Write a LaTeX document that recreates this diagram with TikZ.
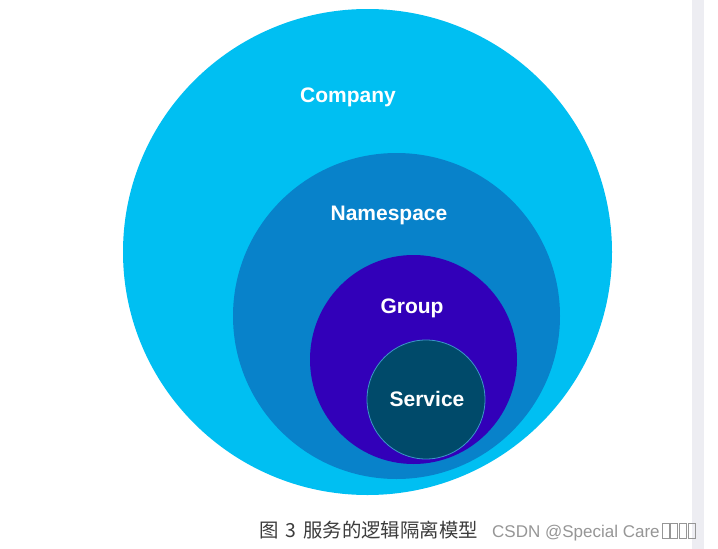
\documentclass[tikz,border=0pt]{standalone}
\usepackage{fontspec}
\setmainfont{Liberation Sans}
\newfontfamily\cjk{Noto Sans CJK SC}
\usetikzlibrary{shapes.geometric}
\definecolor{compc}{RGB}{0,191,242}
\definecolor{nsc}{RGB}{8,130,202}
\definecolor{grpc}{RGB}{50,0,185}
\definecolor{svcc}{RGB}{0,74,106}
\definecolor{svcline}{RGB}{60,150,200}
\definecolor{capc}{RGB}{60,60,60}
\definecolor{csdnc}{RGB}{150,150,150}
\definecolor{stripc}{RGB}{237,237,242}
\begin{document}
\begin{tikzpicture}[x=1pt,y=-1pt,
  blob/.style={ellipse,inner sep=0pt,draw=none},
  lbl/.style={text=white,font=\fontsize{21}{21}\selectfont\bfseries,inner sep=0pt},
  captxt/.style={anchor=base west,inner sep=0pt,text=capc,font=\cjk\fontsize{19.4}{19.4}\selectfont}]
\useasboundingbox[fill=white] (0,0) rectangle (718,549);
\fill[stripc] (692,0) rectangle (704,549);
\node[blob,fill=compc,minimum width=489pt,minimum height=486pt] (company) at (367.5,252) {};
\node[blob,fill=nsc,minimum width=327pt,minimum height=326pt] (namespace) at (396.5,316) {};
\node[blob,fill=grpc,minimum width=207pt,minimum height=209pt] (group) at (413.5,359.5) {};
\node[blob,fill=svcc,draw=svcline,line width=0.8pt,minimum width=118pt,minimum height=119pt] (service) at (426,399.5) {};
\node[lbl] (tcompany) at (348,97) {Company};
\node[lbl] (tnamespace) at (389,215) {Namespace};
\node[lbl] (tgroup) at (412,308) {Group};
\node[lbl] (tservice) at (427,399) {Service};
\node[captxt] (capfig) at (259,537) {图};
\node[captxt] (capnum) at (285,537) {3};
\node[captxt] (captext) at (303,537) {服务的逻辑隔离模型};
\node[anchor=base west,inner sep=0pt,text=csdnc,font=\fontsize{17}{17}\selectfont] (csdn) at (492,537) {CSDN @Special Care};
\foreach \i in {0,1,2,3}{
  \draw[csdnc,line width=0.6pt] ({662+\i*8.7},523) rectangle ({669+\i*8.7},538);
}
\end{tikzpicture}
\end{document}
